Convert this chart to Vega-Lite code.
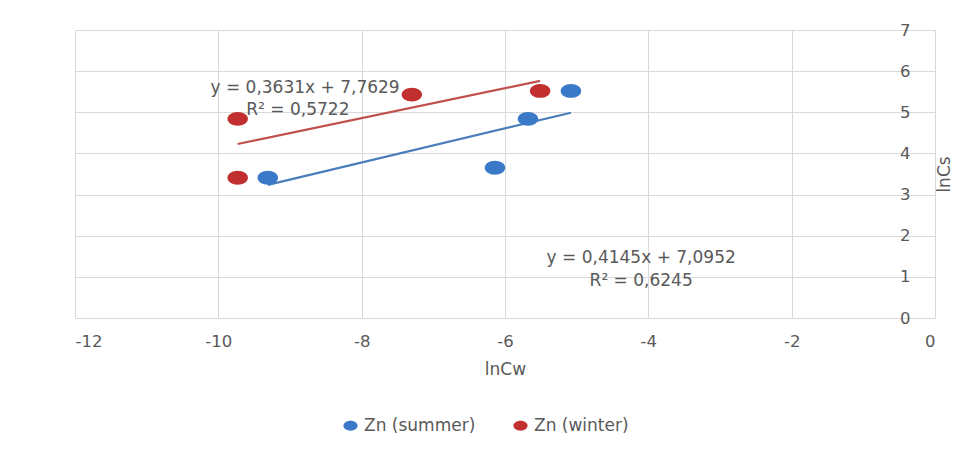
{
  "$schema": "https://vega.github.io/schema/vega-lite/v6.json",
  "width": 860,
  "height": 288,
  "autosize": {"type": "none"},
  "padding": {"left": 75, "top": 30, "right": 23, "bottom": 132},
  "background": "white",
  "config": {
    "font": "DejaVu Sans",
    "view": {"stroke": null},
    "axis": {"labelColor": "#595959", "titleColor": "#595959", "labelFontSize": 16.5, "titleFontSize": 17, "titleFontWeight": "normal", "gridColor": "#d9d9d9", "domain": false, "ticks": false},
    "legend": {"labelColor": "#595959", "labelFontSize": 17}
  },
  "datasets": {
    "pts": [
      {"series": "Zn (summer)", "lnCw": -9.31, "lnCs": 3.41},
      {"series": "Zn (summer)", "lnCw": -6.14, "lnCs": 3.65},
      {"series": "Zn (summer)", "lnCw": -5.68, "lnCs": 4.84},
      {"series": "Zn (summer)", "lnCw": -5.08, "lnCs": 5.52},
      {"series": "Zn (winter)", "lnCw": -9.73, "lnCs": 4.84},
      {"series": "Zn (winter)", "lnCw": -9.73, "lnCs": 3.41},
      {"series": "Zn (winter)", "lnCw": -7.30, "lnCs": 5.43},
      {"series": "Zn (winter)", "lnCw": -5.51, "lnCs": 5.52}
    ],
    "trend": [
      {"series": "Zn (summer)", "lnCw": -9.31, "lnCs": 3.236},
      {"series": "Zn (summer)", "lnCw": -5.08, "lnCs": 4.990},
      {"series": "Zn (winter)", "lnCw": -9.73, "lnCs": 4.230},
      {"series": "Zn (winter)", "lnCw": -5.51, "lnCs": 5.762}
    ],
    "labels": [
      {"lnCw": -8.79, "lnCs": 5.60, "text": "y = 0,3631x + 7,7629"},
      {"lnCw": -8.89, "lnCs": 5.06, "text": "R² = 0,5722"},
      {"lnCw": -4.10, "lnCs": 1.46, "text": "y = 0,4145x + 7,0952"},
      {"lnCw": -4.10, "lnCs": 0.90, "text": "R² = 0,6245"}
    ]
  },
  "layer": [
    {
      "data": {"name": "trend"},
      "mark": {"type": "line", "strokeWidth": 2.2},
      "encoding": {
        "x": {"field": "lnCw", "type": "quantitative", "scale": {"domain": [-12, 0], "nice": false}, "axis": {"title": "lnCw", "values": [-12, -10, -8, -6, -4, -2, 0], "labelExpr": "datum.value + ''", "labelPadding": 15, "titlePadding": 12}},
        "y": {"field": "lnCs", "type": "quantitative", "scale": {"domain": [0, 7], "nice": false}, "axis": {"orient": "left", "offset": -860, "title": "lnCs", "titleAngle": 270, "titleX": 9, "titleY": 144, "titleAlign": "center", "titleBaseline": "middle", "values": [0, 1, 2, 3, 4, 5, 6, 7], "labelExpr": "datum.value + ''", "labelPadding": 25}},
        "color": {"field": "series", "type": "nominal", "scale": {"domain": ["Zn (summer)", "Zn (winter)"], "range": ["#4A7EBB", "#C0504D"]}, "legend": null},
        "detail": {"field": "series"}
      }
    },
    {
      "data": {"name": "pts"},
      "mark": {"type": "point", "filled": true, "opacity": 1, "size": 420, "shape": "M-1,0A1,0.68,0,1,1,1,0A1,0.68,0,1,1,-1,0Z", "strokeWidth": 1},
      "encoding": {
        "x": {"field": "lnCw", "type": "quantitative"},
        "y": {"field": "lnCs", "type": "quantitative"},
        "color": {"field": "series", "type": "nominal", "scale": {"domain": ["Zn (summer)", "Zn (winter)"], "range": ["#3A78C8", "#C1302E"]},
          "legend": {"title": null, "orient": "none", "direction": "horizontal", "legendX": 267, "legendY": 387, "symbolSize": 200, "symbolType": "M-1,0A1,0.7,0,1,1,1,0A1,0.7,0,1,1,-1,0Z", "labelOffset": 5, "columnPadding": 36, "padding": 0}}
      }
    },
    {
      "data": {"name": "labels"},
      "mark": {"type": "text", "fontSize": 17, "color": "#595959"},
      "encoding": {
        "x": {"field": "lnCw", "type": "quantitative"},
        "y": {"field": "lnCs", "type": "quantitative"},
        "text": {"field": "text"}
      }
    }
  ],
  "resolve": {"scale": {"color": "independent"}}
}
